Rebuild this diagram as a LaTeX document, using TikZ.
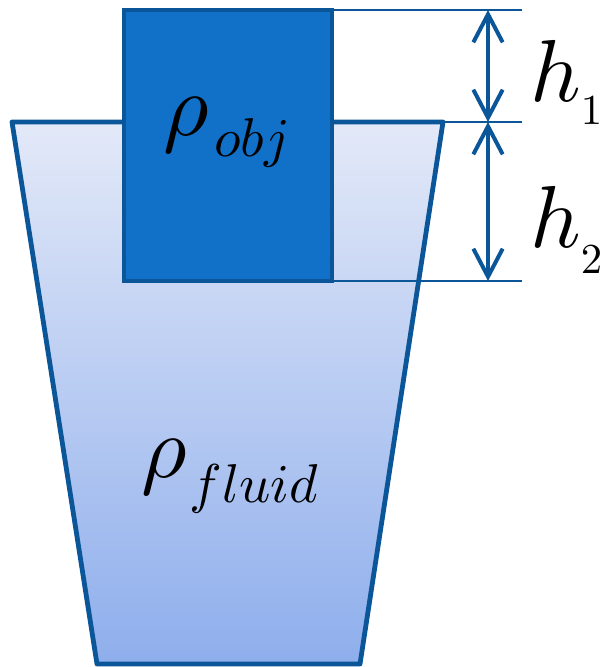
\documentclass[tikz,border=0pt]{standalone}
\usepackage{graphicx}
\usepackage{tikz}
\usetikzlibrary{arrows.meta,positioning}

\definecolor{edgeblue}{HTML}{0B5599}
\definecolor{objblue}{HTML}{1170C8}
\definecolor{fluidtop}{HTML}{E3E9F8}
\definecolor{fluidbot}{HTML}{8EAEEC}

\tikzset{
    dimline/.style={edgeblue, line width=1.5pt},
    dimarrow/.style={edgeblue, line width=3pt, {Straight Barb[length=21pt,width=22pt]}-{Straight Barb[length=21pt,width=22pt]}},
    biglabel/.style={anchor=base west, inner sep=0pt}
}

% big symbol with a lowered subscript: symbol, subscript, subscript scale, drop
\newcommand{\symsub}[4]{\scalebox{6.6}{$#1$}\raisebox{-#4pt}{\scalebox{#3}{$#2$}}}

\begin{document}
\begin{tikzpicture}[x=0.75pt, y=-0.75pt]
    \useasboundingbox (0,0) rectangle (604,667);

    % container with fluid
    \draw[edgeblue, line width=3.6pt, line join=round, top color=fluidtop, bottom color=fluidbot]
        (12,122) -- (443,122) -- (360,664) -- (97,664) -- cycle;

    % floating object
    \draw[edgeblue, line width=3.6pt, fill=objblue] (124,10) rectangle (332,281);

    % dimension lines
    \coordinate (top) at (488,10);
    \coordinate (mid) at (488,122);
    \coordinate (bot) at (488,281);
    \draw[dimline] (332,10) -- (522,10);
    \draw[dimline] (443,122) -- (522,122);
    \draw[dimline] (332,281) -- (522,281);
    \draw[dimarrow] (top) -- (mid);
    \draw[dimarrow] (mid) -- (bot);

    % labels
    \node[biglabel] (hone) at (530,102) {\symsub{h}{1}{3.2}{17}};
    \node[biglabel] (htwo) at (530,247) {\symsub{h}{2}{3.2}{20}};
    \node[biglabel] (robj) at (163,135) {\symsub{\rho}{\kern1pt obj}{4.1}{16}};
    \node[biglabel] (rfluid) at (141,477) {\symsub{\rho}{\kern0.5pt fluid}{4.1}{19}};
\end{tikzpicture}
\end{document}
